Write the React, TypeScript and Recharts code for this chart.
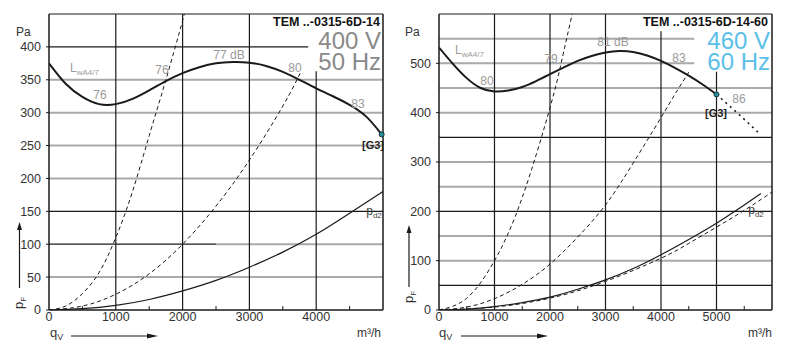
import React from 'react'
import { LineChart, Line, XAxis, YAxis, ReferenceLine, ReferenceDot } from 'recharts'

// ---- 400 V / 50 Hz (left) ----
const fanFlow50 = [0, 250, 500, 750, 1000, 1250, 1500, 1750, 2000, 2250, 2500, 2750, 3000, 3250, 3500, 3750, 4000, 4250, 4500, 4750, 4980]
const fanPress50 = [375, 344, 324, 313, 313, 321, 334, 348, 360, 369, 375, 377, 376, 371, 362, 350, 337, 325, 312, 294, 267]
const sys1Flow50 = [0, 250, 500, 750, 1000, 1250, 1500, 1750, 2000, 2020]
const sys1Press50 = [0, 6, 25, 57, 110, 180, 265, 350, 440, 450]
const sys2Flow50 = [0, 500, 1000, 1500, 2000, 2500, 3000, 3500, 3770]
const sys2Press50 = [0, 6, 24, 55, 100, 158, 228, 310, 362]
const pd2Flow50 = [0, 500, 1000, 1500, 2000, 2500, 3000, 3500, 4000, 4500, 5000]
const pd2Press50 = [0, 2, 7, 16, 29, 45, 65, 88, 115, 147, 180]
const xTicks50 = [0, 1000, 2000, 3000, 4000]
const yTicks50 = [0, 50, 100, 150, 200, 250, 300, 350, 400]

// ---- 460 V / 60 Hz (right) ----
const fanFlow60 = [0, 250, 500, 750, 1000, 1250, 1500, 1750, 2000, 2250, 2500, 2750, 3000, 3250, 3500, 3750, 4000, 4250, 4500, 4750, 5000]
const fanPress60 = [532, 499, 470, 450, 443, 445, 452, 464, 478, 492, 505, 515, 522, 525, 523, 516, 505, 491, 475, 457, 437]
const extFlow60 = [5000, 5400, 5800]
const extPress60 = [437, 397, 355]
const sys1Flow60 = [0, 500, 1000, 1500, 2000, 2200, 2400]
const sys1Press60 = [0, 24, 100, 228, 410, 500, 600]
const sys2Flow60 = [0, 500, 1000, 1500, 2000, 2500, 3000, 3500, 4000, 4250, 4500]
const sys2Press60 = [0, 6, 23, 52, 93, 148, 213, 298, 390, 437, 482]
const pd2Flow60 = [0, 500, 1000, 1500, 2000, 2500, 3000, 3500, 4000, 4500, 5000, 5400, 5800]
const pd2Press60 = [0, 2, 7, 15, 26, 42, 61, 84, 112, 143, 176, 205, 236]
const pd2bFlow60 = [0, 1000, 2000, 3000, 4000, 4500, 5000, 5500, 6000]
const pd2bPress60 = [0, 6, 24, 58, 105, 135, 168, 202, 239]
const xTicks60 = [0, 1000, 2000, 3000, 4000, 5000]
const yTicks60 = [0, 100, 200, 300, 400, 500]

const pts = (q: number[], p: number[]) => q.map((x, i) => ({ q: x, p: p[i] }))

const FONT = '"Liberation Sans", Arial, Helvetica, sans-serif'
const GRAY = '#a9a9a9'
const INK = '#1a1a1a'
const LABEL = '#9a9a9a'

function Tag({ x, y, size = 12, color = LABEL, bold = false, anchor = 'middle', lh = 1, children }: any) {
  const tx = anchor === 'end' ? '-100%' : anchor === 'start' ? '0' : '-50%'
  return (
    <div style={{
      position: 'absolute', left: x, top: y, transform: `translate(${tx}, -50%)`,
      fontFamily: FONT, fontSize: size, color, fontWeight: bold ? 700 : 400,
      whiteSpace: 'nowrap', lineHeight: lh,
    }}>{children}</div>
  )
}

// voltage / frequency block, two lines of one text
function Rating({ right, top, color, text }: any) {
  return (
    <div style={{
      position: 'absolute', right, top, fontFamily: FONT, fontSize: 24, color,
      lineHeight: '21px', whiteSpace: 'pre', textAlign: 'right',
    }}>{text}</div>
  )
}

const Sub = ({ children, size = 8 }: any) => <sub style={{ fontSize: size, verticalAlign: -3 }}>{children}</sub>

const tickStyle = { fill: '#333', fontSize: 12.5, fontFamily: FONT }

function minorTicks(max: number, len: number) {
  const out = []
  for (let v = 500; v < max; v += 1000) {
    out.push(
      <ReferenceLine key={'m' + v} segment={[{ x: v, y: 0 }, { x: v, y: len }]} stroke={INK} strokeWidth={1} />
    )
  }
  return out
}

function Panel50() {
  return (
    <LineChart width={400} height={355} margin={{ top: 14, right: 17, left: 0, bottom: 15 }}>
      <XAxis dataKey="q" type="number" domain={[0, 5000]} ticks={xTicks50} allowDataOverflow
        tick={tickStyle} tickLine={false} tickSize={2} tickMargin={0} height={30}
        axisLine={{ stroke: INK, strokeWidth: 1.5 }} />
      <YAxis type="number" domain={[0, 450]} ticks={yTicks50} allowDataOverflow width={49}
        tick={tickStyle} tickSize={3} tickMargin={5} tickLine={{ stroke: INK }}
        axisLine={{ stroke: INK, strokeWidth: 1.5 }} />
      {[50, 200, 250, 300, 350].map((v) => <ReferenceLine key={'g' + v} y={v} stroke={GRAY} strokeWidth={2} />)}
      <ReferenceLine segment={[{ x: 2500, y: 100 }, { x: 5000, y: 100 }]} stroke={GRAY} strokeWidth={2} />
      <ReferenceLine segment={[{ x: 0, y: 100 }, { x: 2500, y: 100 }]} stroke={INK} strokeWidth={1.2} />
      <ReferenceLine y={150} stroke={INK} strokeWidth={1.2} />
      <ReferenceLine segment={[{ x: 0, y: 400 }, { x: 3880, y: 400 }]} stroke={INK} strokeWidth={1.2} />
      <ReferenceLine y={450} stroke={INK} strokeWidth={1.2} />
      {[1000, 2000, 3000].map((v) => <ReferenceLine key={'v' + v} x={v} stroke={INK} strokeWidth={1.2} />)}
      <ReferenceLine segment={[{ x: 4000, y: 0 }, { x: 4000, y: 363 }]} stroke={INK} strokeWidth={1.2} />
      <ReferenceLine x={5000} stroke={INK} strokeWidth={1.5} />
      {minorTicks(5000, 6)}
      <Line data={pts(sys1Flow50, sys1Press50)} dataKey="p" type="natural" stroke={INK} strokeWidth={1} strokeDasharray="4 3" dot={false} isAnimationActive={false} />
      <Line data={pts(sys2Flow50, sys2Press50)} dataKey="p" type="natural" stroke={INK} strokeWidth={1} strokeDasharray="4 3" dot={false} isAnimationActive={false} />
      <Line data={pts(pd2Flow50, pd2Press50)} dataKey="p" type="natural" stroke={INK} strokeWidth={1.2} dot={false} isAnimationActive={false} />
      <Line data={pts(fanFlow50, fanPress50)} dataKey="p" type="natural" stroke={INK} strokeWidth={2} dot={false} isAnimationActive={false} />
      <ReferenceDot x={fanFlow50[fanFlow50.length - 1]} y={fanPress50[fanPress50.length - 1]} r={2.5} fill="#2a8c9c" stroke="#12333a" strokeWidth={1} />
    </LineChart>
  )
}

function Panel60() {
  return (
    <LineChart width={396} height={355} margin={{ top: 14, right: 24, left: 0, bottom: 15 }}>
      <XAxis dataKey="q" type="number" domain={[0, 6000]} ticks={xTicks60} allowDataOverflow
        tick={tickStyle} tickLine={false} tickSize={2} tickMargin={0} height={30}
        axisLine={{ stroke: INK, strokeWidth: 1.5 }} />
      <YAxis type="number" domain={[0, 600]} ticks={yTicks60} allowDataOverflow width={39}
        tick={tickStyle} tickSize={3} tickMargin={5} tickLine={{ stroke: INK }}
        axisLine={{ stroke: INK, strokeWidth: 1.5 }} />
      {[100, 150, 250, 300, 400, 450].map((v) => <ReferenceLine key={'g' + v} y={v} stroke={GRAY} strokeWidth={2} />)}
      {[500, 550].map((v) => <ReferenceLine key={'s' + v} segment={[{ x: 0, y: v }, { x: 4600, y: v }]} stroke={GRAY} strokeWidth={2} />)}
      {[50, 200, 350, 600].map((v) => <ReferenceLine key={'b' + v} y={v} stroke={INK} strokeWidth={1.2} />)}
      {[1000, 2000, 3000].map((v) => <ReferenceLine key={'v' + v} x={v} stroke={INK} strokeWidth={1.2} />)}
      <ReferenceLine segment={[{ x: 4000, y: 0 }, { x: 4000, y: 565 }]} stroke={INK} strokeWidth={1.2} />
      <ReferenceLine segment={[{ x: 5000, y: 0 }, { x: 5000, y: 483 }]} stroke={INK} strokeWidth={1.2} />
      <ReferenceLine x={6000} stroke={INK} strokeWidth={1.5} />
      {minorTicks(6000, 8)}
      <Line data={pts(sys1Flow60, sys1Press60)} dataKey="p" type="natural" stroke={INK} strokeWidth={1} strokeDasharray="4 3" dot={false} isAnimationActive={false} />
      <Line data={pts(sys2Flow60, sys2Press60)} dataKey="p" type="natural" stroke={INK} strokeWidth={1} strokeDasharray="4 3" dot={false} isAnimationActive={false} />
      <Line data={pts(pd2bFlow60, pd2bPress60)} dataKey="p" type="natural" stroke={INK} strokeWidth={1} strokeDasharray="4 3" dot={false} isAnimationActive={false} />
      <Line data={pts(pd2Flow60, pd2Press60)} dataKey="p" type="natural" stroke={INK} strokeWidth={1.2} dot={false} isAnimationActive={false} />
      <Line data={pts(extFlow60, extPress60)} dataKey="p" type="linear" stroke={INK} strokeWidth={1.6} strokeDasharray="2 4" dot={false} isAnimationActive={false} />
      <Line data={pts(fanFlow60, fanPress60)} dataKey="p" type="natural" stroke={INK} strokeWidth={2} dot={false} isAnimationActive={false} />
      <ReferenceDot x={fanFlow60[fanFlow60.length - 1]} y={fanPress60[fanPress60.length - 1]} r={2.5} fill="#2a8c9c" stroke="#12333a" strokeWidth={1} />
    </LineChart>
  )
}

function Arrows() {
  return (
    <svg width={796} height={355} style={{ position: 'absolute', left: 0, top: 0, pointerEvents: 'none' }}>
      {[{ x: 19.5, y1: 288, y2: 222 }, { x: 409, y1: 287, y2: 225 }].map((a, i) => (
        <g key={'v' + i}>
          <line x1={a.x} y1={a.y1} x2={a.x} y2={a.y2 + 6} stroke={INK} strokeWidth={1.2} />
          <polygon points={`${a.x - 2.5},${a.y2 + 8} ${a.x + 2.5},${a.y2 + 8} ${a.x},${a.y2}`} fill={INK} />
        </g>
      ))}
      {[{ x1: 71, x2: 158, y: 336 }, { x1: 461, x2: 548, y: 336 }].map((a, i) => (
        <g key={'h' + i}>
          <line x1={a.x1} y1={a.y} x2={a.x2 - 8} y2={a.y} stroke={INK} strokeWidth={1.2} />
          <polygon points={`${a.x2 - 11},${a.y - 2.5} ${a.x2 - 11},${a.y + 2.5} ${a.x2},${a.y}`} fill={INK} />
        </g>
      ))}
    </svg>
  )
}

export default function App() {
  return (
    <div style={{ position: 'absolute', left: 0, top: 0, width: 796, height: 355, background: '#fff', overflow: 'hidden' }}>
      <div style={{ position: 'absolute', left: 0, top: 0 }}><Panel50 /></div>
      <div style={{ position: 'absolute', left: 400, top: 0 }}><Panel60 /></div>
      <Arrows />

      {/* left panel texts */}
      <Tag x={16} y={32} color="#333" anchor="start">Pa</Tag>
      <Tag x={70} y={69} anchor="start">L<Sub>wA4/7</Sub></Tag>
      <Tag x={100} y={95}>76</Tag>
      <Tag x={162} y={70}>76</Tag>
      <Tag x={229} y={55}>77 dB</Tag>
      <Tag x={295} y={68}>80</Tag>
      <Tag x={358} y={104}>83</Tag>
      <Tag x={373} y={145} size={11} bold color="#222">[G3]</Tag>
      <Tag x={374} y={212} color="#444">p<Sub>d2</Sub></Tag>
      <Tag x={380} y={22} size={12.5} bold color="#111" anchor="end" lh={0.8}>TEM ..-0315-6D-14</Tag>
      <Rating right={796 - 381} top={30} color="#8a8a8a" text={'400 V\n50 Hz'} />
      <Tag x={381} y={333} color="#333" anchor="end">m³/h</Tag>
      <Tag x={50} y={334} size={13} color="#333" anchor="start">q<Sub size={9}>V</Sub></Tag>
      <div style={{ position: 'absolute', left: 20, top: 303, transform: 'translate(-50%, -50%) rotate(-90deg)', fontFamily: FONT, fontSize: 13, color: '#333', lineHeight: 1 }}>p<Sub size={8}>F</Sub></div>

      {/* right panel texts */}
      <Tag x={405} y={32} color="#333" anchor="start">Pa</Tag>
      <Tag x={455} y={51} anchor="start">L<Sub>wA4/7</Sub></Tag>
      <Tag x={487} y={81}>80</Tag>
      <Tag x={551} y={59}>79</Tag>
      <Tag x={613} y={42}>81 dB</Tag>
      <Tag x={679} y={58}>83</Tag>
      <Tag x={739} y={99}>86</Tag>
      <Tag x={716} y={113} size={11} bold color="#222">[G3]</Tag>
      <Tag x={756} y={211} color="#444">p<Sub>d2</Sub></Tag>
      <Tag x={768} y={21.5} size={12.5} bold color="#111" anchor="end" lh={0.8}>TEM ..-0315-6D-14-60</Tag>
      <Rating right={796 - 770} top={30} color="#5bc0e8" text={'460 V\n60 Hz'} />
      <Tag x={772} y={333} color="#333" anchor="end">m³/h</Tag>
      <Tag x={439} y={334} size={13} color="#333" anchor="start">q<Sub size={9}>V</Sub></Tag>
      <div style={{ position: 'absolute', left: 410, top: 297, transform: 'translate(-50%, -50%) rotate(-90deg)', fontFamily: FONT, fontSize: 13, color: '#333', lineHeight: 1 }}>p<Sub size={8}>F</Sub></div>
    </div>
  )
}
